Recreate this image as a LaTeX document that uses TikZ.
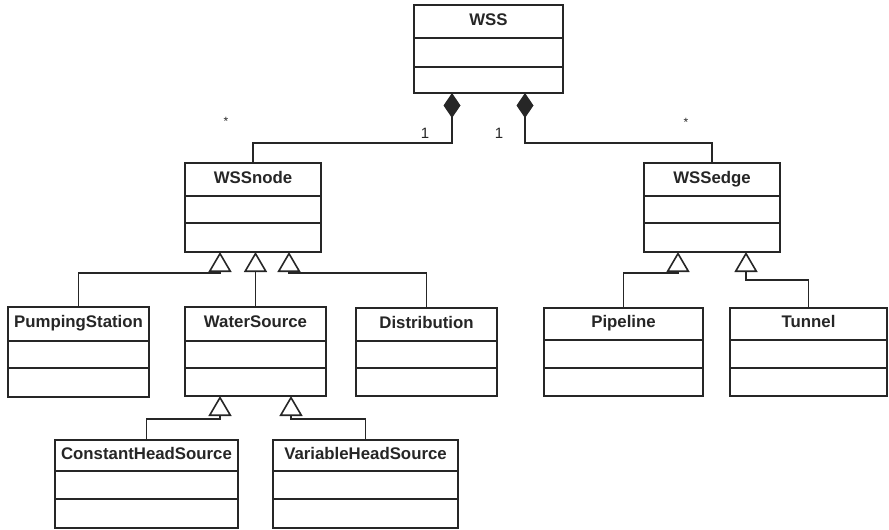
\documentclass[tikz,border=0pt]{standalone}
\usepackage{fontspec}
\setmainfont{Liberation Sans}
\usetikzlibrary{arrows.meta}
\tikzset{
  clsbox/.style={draw=black!85, line width=1.7pt, rectangle, inner sep=0pt, outer sep=0pt, fill=white},
  clsline/.style={draw=black!85, line width=1.7pt},
  clstitle/.style={inner sep=0pt, font=\fontsize{16.8}{18}\selectfont\bfseries, text height=0.716em, text depth=0pt, text=black!85},
  genline/.style={draw=black!85, line width=1.7pt, -{Triangle[open, length=20pt, width=23pt, line width=1.6pt]}},
  compline/.style={draw=black!85, line width=1.7pt, -{Diamond[length=25pt, width=17pt]}},
  mult/.style={inner sep=0pt, font=\fontsize{15}{17}\selectfont, text=black!85},
  star/.style={inner sep=0pt, font=\fontsize{12}{13}\selectfont, text=black!85}
}
\newcommand{\umlcls}[8]{%
  \node[clsbox, minimum width={(#4-#2)*1pt}, minimum height={(#5-#3)*1pt}] (#1) at ({(#2+#4)/2},{(#3+#5)/2}) {};
  \draw[clsline] ({#2},{#6}) -- ({#4},{#6});
  \draw[clsline] ({#2},{#7}) -- ({#4},{#7});
  \node[clstitle] (#1-t) at ({(#2+#4)/2},{(#3+#6)/2}) {#8};
}
\begin{document}
\begin{tikzpicture}[x=1pt, y=-1pt]
\useasboundingbox (0,0) rectangle (889,530);
% classes
\umlcls{wss}{414}{5}{563}{93}{38}{67}{WSS}
\umlcls{wssnode}{185}{163}{321}{252}{196}{223}{WSSnode}
\umlcls{wssedge}{644}{163}{780}{252}{196}{223}{WSSedge}
\umlcls{ps}{8}{307}{149}{397}{341}{368}{PumpingStation}
\umlcls{ws}{185}{307}{326}{396}{341}{368}{WaterSource}
\umlcls{dist}{356}{308}{497}{396}{341}{368}{Distribution}
\umlcls{pipe}{544}{308}{703}{396}{340}{368}{Pipeline}
\umlcls{tun}{730}{308}{887}{396}{340}{368}{Tunnel}
\umlcls{chs}{55}{440}{238}{528}{471}{499}{ConstantHeadSource}
\umlcls{vhs}{273}{440}{458}{528}{471}{499}{VariableHeadSource}
% bend coordinates
\coordinate (d1) at (452,143);
\coordinate (d2) at (525,143);
\coordinate (t1) at (220,273);
\coordinate (t3) at (289,273);
\coordinate (e1) at (678,273);
\coordinate (e2) at (746,280);
\coordinate (c1) at (220,419);
\coordinate (c2) at (291,419);
% composition
\draw[compline] (wssnode.north) |- (d1) -- (d1 |- wss.south);
\draw[compline] (wssedge.north) |- (d2) -- (d2 |- wss.south);
% generalisation
\draw[genline] (ps.north) |- (t1) -- (t1 |- wssnode.south);
\draw[genline] (ws.north) -- (ws.north |- wssnode.south);
\draw[genline] (dist.north) |- (t3) -- (t3 |- wssnode.south);
\draw[genline] (pipe.north) |- (e1) -- (e1 |- wssedge.south);
\draw[genline] (tun.north) |- (e2) -- (e2 |- wssedge.south);
\draw[genline] (chs.north) |- (c1) -- (c1 |- ws.south);
\draw[genline] (vhs.north) |- (c2) -- (c2 |- ws.south);
% multiplicities
\node[mult] (m1) at (425,133) {1};
\node[mult] (m2) at (499,133) {1};
\node[star] (s1) at (226,121) {*};
\node[star] (s2) at (686,122) {*};
\end{tikzpicture}
\end{document}
